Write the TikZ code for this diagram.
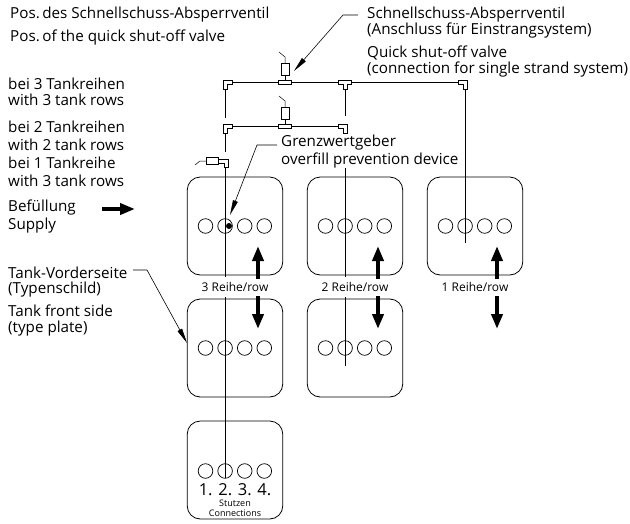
\documentclass[tikz,border=0pt]{standalone}
\usepackage{fontspec}
\setmainfont{Open Sans}
\usetikzlibrary{arrows.meta}
\tikzset{
  tank/.style={draw,line width=0.8pt,rounded corners=13pt,minimum width=95.5pt,minimum height=98pt,inner sep=0pt},
  port/.style={draw,circle,line width=0.7pt,minimum size=14.6pt,inner sep=0pt},
  pipe/.style={line width=0.8pt},
  leader/.style={line width=0.6pt,-{Triangle[length=15pt,width=5pt]}},
  flow/.style={line width=4.8pt,-{Triangle[length=15pt,width=11pt]}},
  txt/.style={anchor=west,inner sep=0pt,font=\fontsize{15.2}{17}\selectfont},
  rowtxt/.style={inner sep=0pt,font=\fontsize{12}{14}\selectfont},
  elbow/.pic={\draw [pipe,fill=white] (-2,-2) -- (7,-2) -- (7,2) -- (2,2) -- (2,7) -- (-2,7) -- cycle;},
  teedown/.pic={\draw [pipe,fill=white] (-6.5,-2) -- (6.5,-2) -- (6.5,2) -- (2,2) -- (2,7) -- (-2,7) -- (-2,2) -- (-6.5,2) -- cycle;},
  valve/.pic={
    \draw [pipe,fill=white] (-6.5,-2) rectangle (6.5,2);
    \draw [pipe] (0,-2) -- (0,-7);
    \draw [pipe,fill=white] (-4,-7) rectangle (4,-19);
    \draw [line width=0.5pt] (0,-19) -- (0,-25) -- (-6,-30);
  }
}
\begin{document}
\begin{tikzpicture}[x=1pt,y=-1pt]
  \useasboundingbox (0,0) rectangle (630,523);

  % tanks
  \node [tank] (tankA) at (235,226) {};
  \node [tank] (tankB) at (235,348) {};
  \node [tank] (tankC) at (235,470) {};
  \node [tank] (tankD) at (355,226) {};
  \node [tank] (tankE) at (355,348) {};
  \node [tank] (tankF) at (475,226) {};

  % ports
  \foreach \n/\x/\y in {A/205.5/226,B/205.5/348,C/205.5/471,D/325.5/226,E/325.5/348,F/445.5/226}{
    \node [port] (port\n1) at (\x,\y) {};
    \node [port] (port\n2) at (\x+19.6,\y) {};
    \node [port] (port\n3) at (\x+39.2,\y) {};
    \node [port] (port\n4) at (\x+58.8,\y) {};
  }
  \fill (229,226) circle [radius=3];

  % pipes
  \coordinate (elbowA) at (225,82);
  \coordinate (elbowB) at (225,126);
  \coordinate (teeA) at (285,82);
  \coordinate (teeB) at (285,126);
  \coordinate (teeC) at (345,82);
  \coordinate (elbowC) at (465,82);
  \coordinate (elbowD) at (345,126);
  \coordinate (endA) at (225,118);
  \coordinate (endB) at (345,116);
  \coordinate (endC) at (225,152);
  \coordinate (endD) at (225,159);
  \coordinate (endE) at (225,277);
  \coordinate (endF) at (225,297);
  \coordinate (endG) at (225,478);
  \coordinate (endH) at (345,168);
  \coordinate (endI) at (345,277);
  \coordinate (endJ) at (345,297);
  \coordinate (endK) at (345,366);
  \coordinate (endL) at (465,243);
  \draw [pipe] (elbowA) -- (elbowC);
  \draw [pipe] (elbowB) -- (elbowD);
  \draw [pipe] (elbowA) -- (endA);
  \draw [pipe] (teeC) -- (endB);
  \draw [pipe] (elbowB) -- (endC);
  \draw [pipe] (endD) -- (endE);
  \draw [pipe] (endF) -- (endG);
  \draw [pipe] (endH) -- (endI);
  \draw [pipe] (endJ) -- (endK);
  \draw [pipe] (elbowC) -- (endL);

  % fittings
  \pic at (elbowA) {elbow};
  \pic at (elbowB) {elbow};
  \pic [xscale=-1] at (elbowC) {elbow};
  \pic [xscale=-1] at (elbowD) {elbow};
  \pic at (teeC) {teedown};
  \pic at (teeA) {valve};
  \pic at (teeB) {valve};
  \draw [pipe,fill=white] (218,159) -- (228,159) -- (228,167) -- (224,167) -- (224,163) -- (218,163) -- cycle;
  \draw [pipe,fill=white] (206,157) rectangle (218,164);
  \draw [line width=0.5pt] (206,161) -- (200,161) -- (195,165);

  % flow arrows
  \coordinate (flowA) at (102,209);
  \coordinate (flowB) at (135,209);
  \draw [flow] (flowA) -- (flowB);
  \foreach \n/\x in {A/258,B/378,C/497}{
    \coordinate (up\n) at (\x,279);
    \coordinate (upend\n) at (\x,246);
    \coordinate (down\n) at (\x,296);
    \coordinate (downend\n) at (\x,329);
    \draw [flow] (up\n) -- (upend\n);
    \draw [flow] (down\n) -- (downend\n);
  }

  % labels
  \node [txt] (posde) at (10,15) {Pos.\,des Schnellschuss-Absperrventil};
  \node [txt] (posen) at (10,38) {Pos.\,of the quick shut-off valve};
  \node [txt] (valvede) at (367,15) {Schnellschuss-Absperrventil};
  \node [txt] (valvedeb) at (367,31) {(Anschluss für Einstrangsystem)};
  \node [txt] (valveen) at (367,53) {Quick shut-off valve};
  \node [txt] (valveenb) at (367,70) {(connection for single strand system)};
  \node [txt] (threede) at (8,84) {bei 3 Tankreihen};
  \node [txt] (threeen) at (8,100) {with 3 tank rows};
  \node [txt] (twode) at (8,127) {bei 2 Tankreihen};
  \node [txt] (twoen) at (8,145) {with 2 tank rows};
  \node [txt] (onede) at (8,163) {bei 1 Tankreihe};
  \node [txt] (oneen) at (8,181) {with 3 tank rows};
  \node [txt] (supplyde) at (8,208) {Befüllung};
  \node [txt] (supplyen) at (8,226) {Supply};
  \node [txt] (frontde) at (8,273) {Tank-Vorderseite};
  \node [txt] (frontdeb) at (8,290) {(Typenschild)};
  \node [txt] (fronten) at (8,311) {Tank front side};
  \node [txt] (frontenb) at (8,329) {(type plate)};
  \node [txt] (limitde) at (281,143) {Grenzwertgeber};
  \node [txt] (limiten) at (281,161) {overfill prevention device};
  \node [rowtxt] (rowA) at (235,286.5) {3 Reihe/row};
  \node [rowtxt] (rowB) at (355,286.5) {2 Reihe/row};
  \node [rowtxt] (rowC) at (475,286.5) {1 Reihe/row};
  \node [inner sep=0pt,font=\fontsize{16.5}{18}\selectfont] (nums) at (235,490) {1. 2. 3. 4.};
  \node [inner sep=0pt,font=\fontsize{9}{10}\selectfont] (connde) at (235,503.5) {Stutzen};
  \node [inner sep=0pt,font=\fontsize{9}{10}\selectfont] (connen) at (235,513.5) {Connections};

  % leaders
  \coordinate (tipA) at (294,71);
  \coordinate (tipB) at (230,215);
  \coordinate (tipC) at (187,343);
  \coordinate (startA) at (358,15);
  \coordinate (startB) at (277,145);
  \coordinate (startC) at (133,270);
  \draw [leader] (startA) -- (343,15) -- (tipA);
  \draw [leader] (startB) -- (257,145) -- (tipB);
  \draw [leader] (startC) -- (147,270) -- (tipC);
\end{tikzpicture}
\end{document}
